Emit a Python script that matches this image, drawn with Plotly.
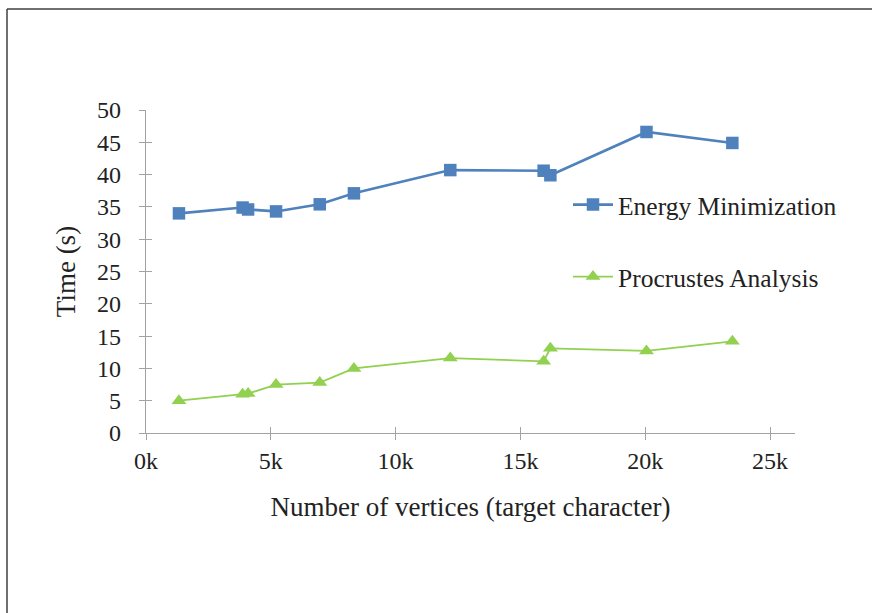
import plotly.graph_objects as go

# ---- data ----
vertices = [1320, 3870, 4090, 5210, 6960, 8330, 12190, 15930, 16200, 20050, 23490]
energy_min = [34.0, 34.9, 34.6, 34.3, 35.4, 37.1, 40.7, 40.6, 39.9, 46.6, 44.9]
procrustes = [5.0, 6.0, 6.1, 7.5, 7.8, 10.0, 11.6, 11.1, 13.1, 12.7, 14.2]
x_tickvals = [0, 5000, 10000, 15000, 20000, 25000]
x_ticktext = ["0k", "5k", "10k", "15k", "20k", "25k"]
y_tickvals = [0, 5, 10, 15, 20, 25, 30, 35, 40, 45, 50]
series_names = ["Energy Minimization", "Procrustes Analysis"]

BLUE = "#4F81BD"
GREEN = "#92D050"
AXIS = "#A3A3A3"
TXT = "#222222"
FONT = "Liberation Serif"

W, H = 872, 613
L, T = 146, 110
pw, ph = 649, 323
R, B = W - L - pw, H - T - ph

fig = go.Figure()
fig.add_trace(go.Scatter(
    x=vertices, y=energy_min, name=series_names[0], mode="lines+markers",
    line=dict(color=BLUE, width=2.6),
    marker=dict(symbol="square", size=12.5, color=BLUE),
    legend="legend"))
fig.add_trace(go.Scatter(
    x=vertices, y=procrustes, name=series_names[1], mode="lines+markers",
    line=dict(color=GREEN, width=1.8),
    marker=dict(symbol="triangle-up", size=13, color=GREEN),
    legend="legend2"))

# invisible helper for the overlay axes (inner half of the cross ticks)
fig.add_trace(go.Scatter(x=[None], y=[None], xaxis="x2", yaxis="y2",
                         showlegend=False, hoverinfo="skip"))

common_axis = dict(showgrid=False, zeroline=False, showline=True,
                   linecolor=AXIS, linewidth=1.3, tickcolor=AXIS,
                   tickwidth=1.3, ticklen=6)

def px_x(p):
    return (p - L) / pw

def px_y(p):
    return (T + ph - p) / ph

fig.update_layout(
    width=W, height=H,
    margin=dict(l=L, r=R, t=T, b=B),
    paper_bgcolor="white", plot_bgcolor="white",
    font=dict(family=FONT, color=TXT, size=24),
    xaxis=dict(range=[0, 26000], tickmode="array", tickvals=x_tickvals,
               ticktext=x_ticktext, ticks="outside",
               tickfont=dict(size=24, family=FONT, color=TXT),
               title=dict(text="Number of vertices (target character)",
                          font=dict(size=27, family=FONT, color=TXT), standoff=24),
               **common_axis),
    yaxis=dict(range=[0, 50], tickmode="array", tickvals=y_tickvals,
               ticks="outside",
               tickfont=dict(size=24, family=FONT, color=TXT),
               ticklabelstandoff=13,
               title=dict(text="Time (s)",
                          font=dict(size=27, family=FONT, color=TXT), standoff=13),
               **common_axis),
    xaxis2=dict(range=[0, 26000], overlaying="x", anchor="y2",
                tickmode="array", tickvals=x_tickvals, ticks="inside",
                showticklabels=False, **common_axis),
    yaxis2=dict(range=[0, 50], overlaying="y", anchor="x2",
                tickmode="array", tickvals=y_tickvals, ticks="inside",
                showticklabels=False, **common_axis),
    legend=dict(x=px_x(568), y=px_y(205), xanchor="left",
                yanchor="middle", bgcolor="rgba(0,0,0,0)", itemwidth=40,
                font=dict(size=25.5, family=FONT, color=TXT)),
    legend2=dict(x=px_x(568), y=px_y(277), xanchor="left",
                 yanchor="middle", bgcolor="rgba(0,0,0,0)", itemwidth=40,
                 font=dict(size=25.5, family=FONT, color=TXT)),
    showlegend=True,
)

# outer frame (top and left edges of the figure border)
fig.add_shape(type="line", xref="paper", yref="paper",
              x0=px_x(7), x1=px_x(W + 5), y0=px_y(9), y1=px_y(9),
              line=dict(color="#404040", width=1.5))
fig.add_shape(type="line", xref="paper", yref="paper",
              x0=px_x(7), x1=px_x(7), y0=px_y(9), y1=px_y(H + 5),
              line=dict(color="#404040", width=1.5))

fig.write_html("out.html",
               config={"displayModeBar": False},
               post_script="document.body.style.margin='0';"
                           "document.body.style.overflow='hidden';")
